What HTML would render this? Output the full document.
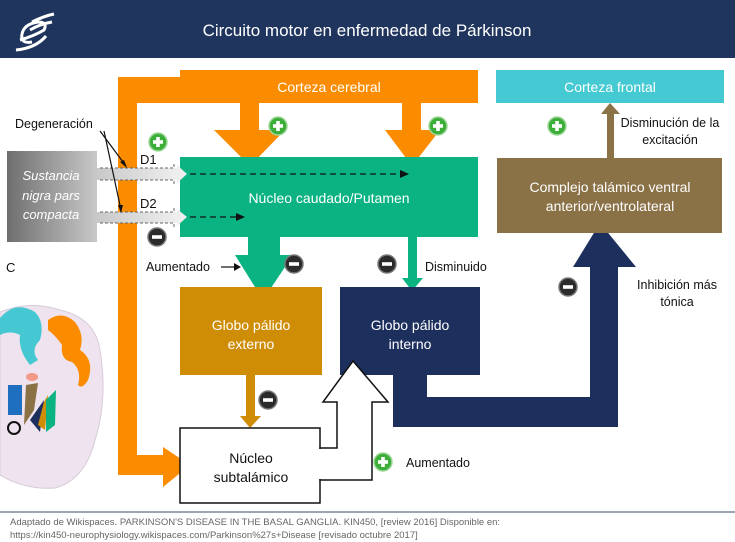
<!DOCTYPE html>
<html><head><meta charset="utf-8"><style>
html,body{margin:0;padding:0;background:#fff;}
svg{display:block;font-family:"Liberation Sans",sans-serif;}
</style></head><body>
<svg width="735" height="542" viewBox="0 0 735 542" xmlns="http://www.w3.org/2000/svg">
<defs>
<linearGradient id="gg" x1="0" x2="1" y1="0" y2="0"><stop offset="0" stop-color="#6e6e6e"/><stop offset="1" stop-color="#c9c9c9"/></linearGradient>
<linearGradient id="bar" x1="0" x2="1"><stop offset="0" stop-color="#c8c8c8"/><stop offset="1" stop-color="#eeeeee"/></linearGradient>
<g id="plus"><circle r="9" fill="#3dae3a" stroke="#9fd89a" stroke-width="1.5"/><rect x="-5" y="-1.8" width="10" height="3.6" fill="#fff"/><rect x="-1.8" y="-5" width="3.6" height="10" fill="#fff"/></g>
<g id="minus"><circle r="9" fill="#2b2b2b" stroke="#777" stroke-width="1.5"/><rect x="-5" y="-1.8" width="10" height="3.6" fill="#fff"/></g>
</defs>
<!-- header -->
<rect x="0" y="0" width="735" height="58" fill="#1f355e"/>
<path d="M32 22 q12 -6 22 -8 M30 30 q10 -6 22 -8 M20 40 q14 -4 24 -10 q4 -8 -6 -8 q-14 2 -16 12 q-2 10 10 8 M16 50 q20 -2 30 -14" stroke="#fff" stroke-width="3" fill="none"/>
<text x="367" y="36" fill="#fff" font-size="17" text-anchor="middle">Circuito motor en enfermedad de Párkinson</text>

<!-- orange -->
<rect x="180" y="70" width="298" height="33" fill="#fb8c00"/>
<rect x="118" y="77" width="62" height="26" fill="#fb8c00"/>
<rect x="118" y="77" width="19" height="398" fill="#fb8c00"/>
<rect x="118" y="455" width="47" height="20" fill="#fb8c00"/>
<polygon points="163,447 190,465 163,487" fill="#fb8c00"/>
<rect x="240" y="100" width="19" height="32" fill="#fb8c00"/>
<polygon points="214,130 285,130 250,166" fill="#fb8c00"/>
<rect x="402" y="100" width="19" height="32" fill="#fb8c00"/>
<polygon points="385,130 440,130 412,166" fill="#fb8c00"/>
<text x="329" y="92" fill="#fff" font-size="14" text-anchor="middle">Corteza cerebral</text>

<rect x="496" y="70" width="228" height="33" fill="#45c9d3"/>
<text x="610" y="92" fill="#fff" font-size="14" text-anchor="middle">Corteza frontal</text>

<!-- teal -->
<rect x="180" y="157" width="298" height="80" fill="#0bb382"/>
<text x="329" y="203" fill="#fff" font-size="14" text-anchor="middle">Núcleo caudado/Putamen</text>
<rect x="248" y="235" width="32" height="22" fill="#0bb382"/>
<polygon points="235,255 293,255 263,300" fill="#0bb382"/>
<rect x="408" y="235" width="9" height="45" fill="#0bb382"/>
<polygon points="402,278 423,278 412,291" fill="#0bb382"/>

<!-- nigra -->
<rect x="7" y="151" width="90" height="91" fill="url(#gg)"/>
<text fill="#fff" font-size="13" font-style="italic" text-anchor="middle"><tspan x="51" y="180">Sustancia</tspan><tspan x="51" y="200">nigra pars</tspan><tspan x="51" y="219">compacta</tspan></text>
<rect x="97" y="168" width="80" height="12" fill="url(#bar)"/>
<polygon points="177,165 187,174 177,183" fill="#eee"/>
<rect x="97" y="212" width="80" height="11" fill="url(#bar)"/>
<polygon points="177,209 187,217 177,226" fill="#eee"/>
<g stroke="#666" stroke-dasharray="3,2" fill="none" stroke-width="1">
<path d="M100 168 H174 V162 M100 180 H174 V186"/>
<path d="M100 212 H174 V206 M100 223 H174 V229"/>
</g>
<g stroke="#111" stroke-dasharray="6,4" stroke-width="1.2">
<line x1="190" y1="174" x2="400" y2="174"/>
<line x1="190" y1="217" x2="236" y2="217"/>
</g>
<polygon points="400,170 409,174 400,178" fill="#111"/>
<polygon points="236,213 245,217 236,221" fill="#111"/>
<text x="15" y="128" font-size="12.5" fill="#111">Degeneración</text>
<g stroke="#111" stroke-width="1.2" fill="none"><line x1="100" y1="131" x2="126" y2="166"/><line x1="104" y1="131" x2="121" y2="210"/></g>
<polygon points="127,168 120,162 124,160" fill="#111"/>
<polygon points="121,213 118,205 123,205" fill="#111"/>
<text x="140" y="164" font-size="13" fill="#111">D1</text>
<text x="140" y="208" font-size="13" fill="#111">D2</text>
<text x="6" y="272" font-size="13" fill="#111">C</text>

<!-- globos -->
<rect x="180" y="287" width="142" height="88" fill="#cf8d06"/>
<text fill="#fff" font-size="14" text-anchor="middle"><tspan x="251" y="330">Globo pálido</tspan><tspan x="251" y="349">externo</tspan></text>
<rect x="340" y="287" width="140" height="88" fill="#1c2f5d"/>
<rect x="393" y="370" width="34" height="30" fill="#1c2f5d"/>
<rect x="393" y="397" width="225" height="30" fill="#1c2f5d"/>
<rect x="590" y="262" width="28" height="165" fill="#1c2f5d"/>
<polygon points="573,267 636,267 600,223" fill="#1c2f5d"/>
<text fill="#fff" font-size="14" text-anchor="middle"><tspan x="410" y="330">Globo pálido</tspan><tspan x="410" y="349">interno</tspan></text>
<rect x="246" y="375" width="9" height="43" fill="#cf8d06"/>
<polygon points="240,416 261,416 250,428" fill="#cf8d06"/>

<!-- thalamus -->
<rect x="497" y="158" width="225" height="75" fill="#8a7146"/>
<text fill="#fff" font-size="14" text-anchor="middle"><tspan x="610" y="192">Complejo talámico ventral</tspan><tspan x="610" y="211">anterior/ventrolateral</tspan></text>
<rect x="607" y="112" width="7" height="46" fill="#8a7146"/>
<polygon points="601,114 620,114 610,103" fill="#8a7146"/>

<!-- subtalamico -->
<rect x="180" y="428" width="140" height="75" fill="#fff" stroke="#111" stroke-width="1.5"/>
<polygon points="320,448 337,448 337,402 323,402 353,361 388,402 372,402 372,480 320,480" fill="#fff" stroke="#111" stroke-width="1.5"/>
<rect x="318" y="449" width="4" height="30" fill="#fff"/>
<text fill="#111" font-size="14" text-anchor="middle"><tspan x="251" y="463">Núcleo</tspan><tspan x="251" y="482">subtalámico</tspan></text>

<!-- labels -->
<text x="146" y="271" font-size="12.5" fill="#111">Aumentado</text>
<line x1="221" y1="267" x2="236" y2="267" stroke="#111" stroke-width="1.2"/><polygon points="234,263 241,267 234,271" fill="#111"/>
<text x="425" y="271" font-size="12.5" fill="#111">Disminuido</text>
<text x="406" y="467" font-size="12.5" fill="#111">Aumentado</text>
<text font-size="12.5" fill="#111" text-anchor="middle"><tspan x="670" y="127">Disminución de la</tspan><tspan x="670" y="144">excitación</tspan></text>
<text font-size="12.5" fill="#111" text-anchor="middle"><tspan x="677" y="289">Inhibición más</tspan><tspan x="677" y="306">tónica</tspan></text>

<use href="#plus" x="158" y="142"/><use href="#minus" x="157" y="237"/>
<use href="#plus" x="278" y="126"/><use href="#plus" x="438" y="126"/><use href="#plus" x="557" y="126"/>
<use href="#minus" x="294" y="264"/><use href="#minus" x="387" y="264"/><use href="#minus" x="268" y="400"/><use href="#minus" x="568" y="287"/>
<use href="#plus" x="383" y="462"/>

<!-- brain -->
<g>
<path d="M0 312 Q30 300 60 310 Q95 318 100 350 Q108 400 95 440 Q85 480 55 488 Q25 490 0 475 Z" fill="#efe3ef" stroke="#d8cbd8"/>
<path d="M0 318 Q15 300 35 312 Q45 322 40 340 Q30 350 38 360 L30 365 Q18 350 20 335 Q10 330 0 335 Z" fill="#46c8d2"/>
<path d="M48 320 Q62 310 75 322 Q85 335 80 350 Q95 360 88 380 Q82 390 78 385 Q82 370 72 362 Q60 360 62 345 Q55 335 48 330 Z" fill="#fb8c00"/>
<ellipse cx="32" cy="377" rx="6" ry="4" fill="#f29a88"/>
<path d="M8 385 h14 v30 h-14 Z" fill="#1f6fc1"/>
<path d="M26 385 L38 383 L34 410 L24 425 Z" fill="#8a7146"/>
<path d="M30 420 L44 400 L40 432 Z" fill="#1c2f5d"/>
<path d="M38 425 L44 402 L48 395 L45 430 Z" fill="#cf8d06"/>
<path d="M46 400 L56 390 L55 425 L46 432 Z" fill="#0bb382"/>
<circle cx="14" cy="428" r="6" fill="none" stroke="#111" stroke-width="2"/>
</g>

<!-- footer -->
<line x1="0" y1="512" x2="735" y2="512" stroke="#3b4a6b" stroke-width="1"/>
<text x="10" y="525" font-size="9.5" fill="#666">Adaptado de Wikispaces. PARKINSON'S DISEASE IN THE BASAL GANGLIA. KIN450, [review 2016] Disponible en:</text>
<text x="10" y="538" font-size="9.5" fill="#666">https://kin450-neurophysiology.wikispaces.com/Parkinson%27s+Disease [revisado octubre 2017]</text>
</svg>
</body></html>
